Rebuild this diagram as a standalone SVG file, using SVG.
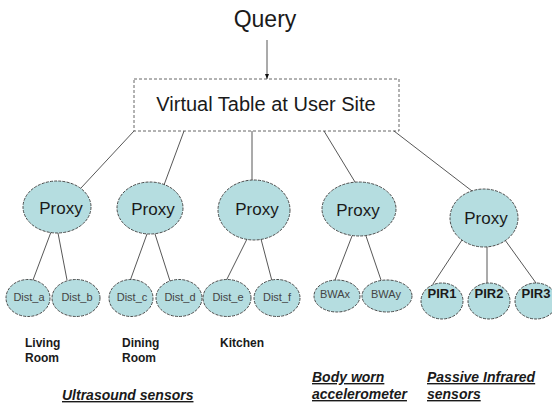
<svg xmlns="http://www.w3.org/2000/svg" width="552" height="407" viewBox="0 0 552 407">
  <style>
    text { font-family: "Liberation Sans", Arial, sans-serif; fill: #1a1a1a; }
    .title { font-size: 23px; text-anchor: middle; }
    .table { font-size: 20px; text-anchor: middle; }
    .proxy { fill: #b5dde0; stroke: #3a3a3a; stroke-width: 0.9; stroke-dasharray: 3 1.2; }
    .sensor { fill: #b5dde0; stroke: #3a3a3a; stroke-width: 0.9; stroke-dasharray: 3 1.2; }
    .proxy-label { font-size: 17px; text-anchor: middle; }
    .dist-label { font-size: 11px; text-anchor: middle; fill: #444; }
    .pir-label { font-size: 13px; font-weight: bold; text-anchor: middle; }
    .room { font-size: 12px; font-weight: bold; }
    .group-label { font-size: 14px; font-weight: bold; font-style: italic; text-decoration: underline; }
    .link { stroke: #444; stroke-width: 0.9; fill: none; }
  </style>
  <defs>
    <marker id="arrow" viewBox="0 0 10 10" refX="10" refY="5" markerWidth="6" markerHeight="6" orient="auto">
      <path d="M0,1 L10,5 L0,9 z" fill="#111"/>
    </marker>
  </defs>

  <rect width="552" height="407" fill="#ffffff"/>

  <!-- query entry -->
  <g id="query">
    <text class="title" x="265" y="27">Query</text>
  </g>

  <!-- virtual table -->
  <g id="virtual-table">
    <rect x="134" y="79" width="265" height="52" fill="#ffffff" stroke="#555" stroke-width="0.9" stroke-dasharray="3 2"/>
    <text class="table" x="266" y="111">Virtual Table at User Site</text>
  </g>

  <!-- connectors -->
  <g id="connectors">
    <line class="link" x1="267" y1="40" x2="267" y2="79" marker-end="url(#arrow)"/>
    <line class="link" x1="134" y1="131" x2="81" y2="188"/>
    <line class="link" x1="184" y1="131" x2="164" y2="185"/>
    <line class="link" x1="252" y1="131" x2="252" y2="180"/>
    <line class="link" x1="324" y1="131" x2="355" y2="182"/>
    <line class="link" x1="394" y1="131" x2="472" y2="191"/>

    <line class="link" x1="51" y1="232" x2="33" y2="280"/>
    <line class="link" x1="58" y1="233" x2="67" y2="280"/>
    <line class="link" x1="147" y1="234" x2="130" y2="281"/>
    <line class="link" x1="155" y1="234" x2="170" y2="281"/>
    <line class="link" x1="247" y1="239" x2="226" y2="281"/>
    <line class="link" x1="261" y1="239" x2="272" y2="281"/>
    <line class="link" x1="352" y1="236" x2="335" y2="280"/>
    <line class="link" x1="366" y1="236" x2="381" y2="280"/>
    <line class="link" x1="462" y1="240" x2="433" y2="284"/>
    <line class="link" x1="487" y1="247" x2="487" y2="283"/>
    <line class="link" x1="505" y1="240" x2="536" y2="283"/>
  </g>

  <!-- proxies -->
  <g id="proxy-1"><ellipse class="proxy" cx="57" cy="207" rx="34" ry="26"/><text class="proxy-label" x="61" y="214">Proxy</text></g>
  <g id="proxy-2"><ellipse class="proxy" cx="150" cy="208" rx="33" ry="26"/><text class="proxy-label" x="153" y="215">Proxy</text></g>
  <g id="proxy-3"><ellipse class="proxy" cx="254" cy="210" rx="36" ry="30"/><text class="proxy-label" x="257" y="215">Proxy</text></g>
  <g id="proxy-4"><ellipse class="proxy" cx="359" cy="209" rx="37" ry="27"/><text class="proxy-label" x="358" y="216">Proxy</text></g>
  <g id="proxy-5"><ellipse class="proxy" cx="484" cy="218" rx="34" ry="29"/><text class="proxy-label" x="486" y="224">Proxy</text></g>

  <!-- distance sensors -->
  <g id="dist-a"><ellipse class="sensor" cx="28" cy="298" rx="22" ry="18.5"/><text class="dist-label" x="29" y="301">Dist_a</text></g>
  <g id="dist-b"><ellipse class="sensor" cx="76" cy="298" rx="24" ry="18.5"/><text class="dist-label" x="77" y="301">Dist_b</text></g>
  <g id="dist-c"><ellipse class="sensor" cx="131" cy="298" rx="22" ry="18.5"/><text class="dist-label" x="132" y="301">Dist_c</text></g>
  <g id="dist-d"><ellipse class="sensor" cx="179" cy="298" rx="23" ry="18.5"/><text class="dist-label" x="180" y="301">Dist_d</text></g>
  <g id="dist-e"><ellipse class="sensor" cx="227" cy="298" rx="24" ry="18.5"/><text class="dist-label" x="228" y="301">Dist_e</text></g>
  <g id="dist-f"><ellipse class="sensor" cx="277" cy="298" rx="23" ry="18.5"/><text class="dist-label" x="277" y="301">Dist_f</text></g>

  <!-- body worn accelerometer axes -->
  <g id="bwa-x"><ellipse class="sensor" cx="337" cy="296" rx="23" ry="16"/><text class="dist-label" x="335" y="298">BWAx</text></g>
  <g id="bwa-y"><ellipse class="sensor" cx="387" cy="296" rx="25" ry="16"/><text class="dist-label" x="386" y="298">BWAy</text></g>

  <!-- passive infrared sensors -->
  <g id="pir-1"><ellipse class="sensor" cx="442" cy="301" rx="21" ry="18"/><text class="pir-label" x="442" y="298">PIR1</text></g>
  <g id="pir-2"><ellipse class="sensor" cx="489" cy="301" rx="21" ry="18"/><text class="pir-label" x="489" y="298">PIR2</text></g>
  <g id="pir-3"><ellipse class="sensor" cx="536" cy="301" rx="21" ry="18"/><text class="pir-label" x="536" y="298">PIR3</text></g>

  <!-- room and sensor-type captions -->
  <g id="caption-living"><text class="room" x="25" y="347">Living</text><text class="room" x="25" y="362">Room</text></g>
  <g id="caption-dining"><text class="room" x="122" y="347">Dining</text><text class="room" x="122" y="362">Room</text></g>
  <g id="caption-kitchen"><text class="room" x="220" y="347">Kitchen</text></g>
  <g id="caption-ultrasound"><text class="group-label" x="62" y="400">Ultrasound sensors</text></g>
  <g id="caption-bwa"><text class="group-label" x="312" y="382">Body worn</text><text class="group-label" x="312" y="399">accelerometer</text></g>
  <g id="caption-pir"><text class="group-label" x="427" y="382">Passive Infrared</text><text class="group-label" x="427" y="399">sensors</text></g>
</svg>
